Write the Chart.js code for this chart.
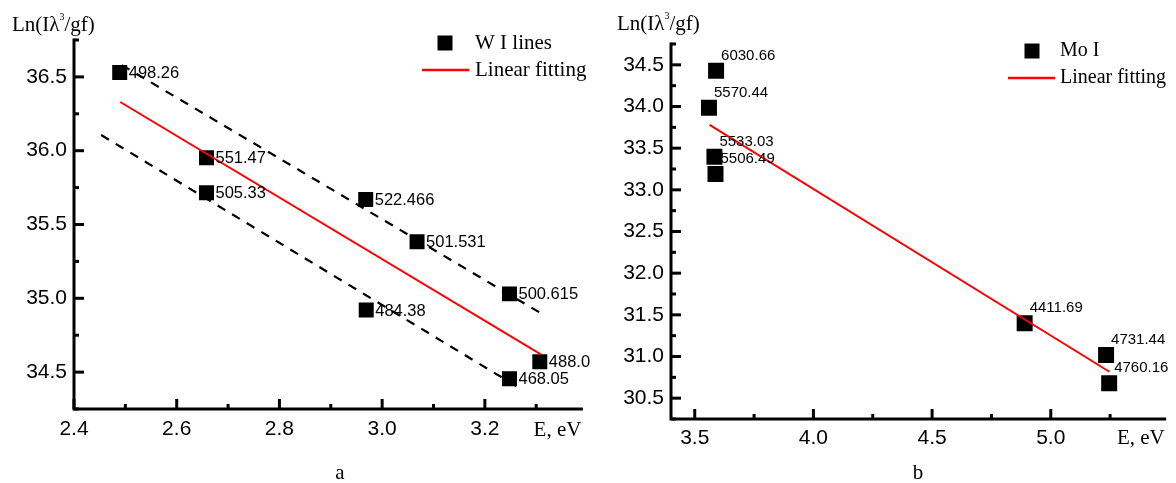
<!DOCTYPE html>
<html>
<head>
<meta charset="utf-8">
<script src="https://cdn.jsdelivr.net/npm/chart.js@4"></script>
<style>
  body { margin: 0; background: #fff; }
  canvas { position: absolute; top: 0; }
</style>
</head>
<body>
<canvas id="chartW" width="592" height="483" style="left:0"></canvas>
<canvas id="chartMo" width="584" height="483" style="left:592px"></canvas>
<script>
// panel a: W I lines
const wX = [2.489, 2.658, 2.658, 2.968, 3.068, 3.248, 2.969, 3.248, 3.307];
const wY = [36.53, 35.953, 35.715, 35.67, 35.383, 35.03, 34.92, 34.455, 34.57];
const wLabels = ["498.26", "551.47", "505.33", "522.466", "501.531", "500.615", "484.38", "468.05", "488.0"];
const wFitX = [2.49, 3.309];
const wFitY = [36.33, 34.62];
const wUpperX = [2.493, 3.31];
const wUpperY = [36.58, 34.897];
const wLowerX = [2.453, 3.263];
const wLowerY = [36.106, 34.401];

// panel b: Mo I
const moX = [3.59, 3.56, 3.583, 3.5875, 4.89, 5.233, 5.246];
const moY = [34.43, 33.986, 33.398, 33.19, 31.40, 31.018, 30.68];
const moLabels = ["6030.66", "5570.44", "5533.03", "5506.49", "4411.69", "4731.44", "4760.16"];
const moFitX = [3.5625, 5.247];
const moFitY = [33.78, 30.817];

const pts = (xs, ys) => xs.map((x, i) => ({ x, y: ys[i] }));
const SANS = "'Liberation Sans', Arial, sans-serif";
const SERIF = "'Liberation Serif', 'Times New Roman', serif";

// major tick values on step multiples inside [min, max]
function stepTicks(s, step) {
  const out = [];
  for (let k = Math.ceil(s.min / step - 1e-6); k <= Math.floor(s.max / step + 1e-6); k++) {
    out.push({ value: Math.round(k * step * 1000) / 1000 });
  }
  s.ticks = out;
}

// axes, inward ticks, point labels, legend and captions
const decor = {
  id: "decor",
  afterDraw(chart, args, o) {
    const { ctx, chartArea: a, scales: { x, y } } = chart;
    ctx.save();
    ctx.strokeStyle = "#000";
    ctx.fillStyle = "#000";
    ctx.lineWidth = 3;
    ctx.lineCap = "square";
    ctx.beginPath();
    ctx.moveTo(a.left, a.top);
    ctx.lineTo(a.left, a.bottom);
    ctx.lineTo(a.right, a.bottom);
    ctx.stroke();

    ctx.lineCap = "butt";
    const half = o.xStep / 2;
    for (let k = Math.ceil(x.min / half - 1e-6); k <= Math.floor(x.max / half + 1e-6); k++) {
      const px = x.getPixelForValue(k * half);
      const len = k % 2 === 0 ? 10 : 5;
      ctx.beginPath();
      ctx.moveTo(px, a.bottom);
      ctx.lineTo(px, a.bottom - len);
      ctx.stroke();
    }
    const yh = o.yStep / 2;
    for (let k = Math.ceil(y.min / yh - 1e-6); k <= Math.floor(y.max / yh + 1e-6); k++) {
      const py = y.getPixelForValue(k * yh);
      const len = k % 2 === 0 ? 10 : 5;
      ctx.beginPath();
      ctx.moveTo(a.left, py);
      ctx.lineTo(a.left + len, py);
      ctx.stroke();
    }

    // point labels
    const meta = chart.getDatasetMeta(o.pointSet);
    ctx.font = o.labelFont;
    ctx.textAlign = "left";
    ctx.textBaseline = "middle";
    meta.data.forEach((p, i) => {
      ctx.fillText(o.labels[i], p.x + o.dx, p.y + o.dy);
    });

    // y title with superscript
    ctx.font = "21px " + SERIF;
    let tx = o.title[0];
    const ty = o.title[1];
    ctx.fillText("Ln(I\u03bb", tx, ty);
    tx += ctx.measureText("Ln(I\u03bb").width;
    ctx.font = "10px " + SERIF;
    ctx.fillText("3", tx, ty - 8);
    tx += ctx.measureText("3").width;
    ctx.font = "21px " + SERIF;
    ctx.fillText("/gf)", tx, ty);

    // x title
    ctx.textAlign = "right";
    ctx.fillText("E, eV", a.right, o.xNameY);

    // panel letter
    ctx.textAlign = "center";
    ctx.fillText(o.letter[0], o.letter[1], o.letter[2]);

    // legend
    const lg = o.legend;
    ctx.font = lg.font;
    ctx.textAlign = "left";
    ctx.fillRect(lg.sq[0] - 7.5, lg.sq[1] - 7.5, 15, 15);
    ctx.fillText(lg.names[0], lg.tx, lg.sq[1]);
    ctx.strokeStyle = "#ff0000";
    ctx.lineWidth = 2.5;
    ctx.beginPath();
    ctx.moveTo(lg.line[0], lg.line[2]);
    ctx.lineTo(lg.line[1], lg.line[2]);
    ctx.stroke();
    ctx.fillText(lg.names[1], lg.tx, lg.line[2]);
    ctx.restore();
  }
};

function makeChart(id, sets, xr, yr, xStep, yStep, layout, xAxisH, yAxisW, xPad, decorOpts) {
  return new Chart(document.getElementById(id), {
    type: "scatter",
    data: { datasets: sets },
    options: {
      responsive: false,
      animation: false,
      layout: { padding: layout },
      plugins: { legend: { display: false }, tooltip: { enabled: false }, decor: decorOpts },
      scales: {
        x: {
          type: "linear", min: xr[0], max: xr[1],
          grid: { display: false, drawTicks: false },
          border: { display: false },
          afterBuildTicks: s => stepTicks(s, xStep),
          afterFit: s => { s.height = xAxisH; },
          ticks: {
            autoSkip: false, maxRotation: 0,
            padding: xPad, color: "#000", font: { family: SANS, size: 21 },
            callback: v => v.toFixed(1)
          }
        },
        y: {
          type: "linear", min: yr[0], max: yr[1],
          grid: { display: false, drawTicks: false },
          border: { display: false },
          afterBuildTicks: s => stepTicks(s, yStep),
          afterFit: s => { s.width = yAxisW; },
          ticks: {
            autoSkip: false,
            padding: 7, color: "#000", font: { family: SANS, size: 21 },
            callback: v => v.toFixed(1)
          }
        }
      }
    },
    plugins: [decor]
  });
}

makeChart("chartW", [
  { type: "line", data: pts(wFitX, wFitY), borderColor: "#ff0000", borderWidth: 2, pointRadius: 0 },
  { data: pts(wX, wY), pointStyle: "rect", pointRadius: 10.6, backgroundColor: "#000", borderWidth: 0 },
  { type: "line", data: pts(wUpperX, wUpperY), borderColor: "#000", borderWidth: 2.2, borderDash: [9, 8], pointRadius: 0 },
  { type: "line", data: pts(wLowerX, wLowerY), borderColor: "#000", borderWidth: 2.2, borderDash: [9, 8], pointRadius: 0 }
], [2.4, 3.388], [34.25, 36.75], 0.2, 0.5,
  { left: 0, right: 0, top: 40, bottom: 24 }, 50, 74, 8, {
    pointSet: 1, labels: wLabels, labelFont: "16.5px " + SANS, dx: 9, dy: 1,
    xStep: 0.2, yStep: 0.5, title: [12, 25], xNameY: 430, letter: ["a", 340, 473],
    legend: { font: "21px " + SERIF, names: ["W I lines", "Linear fitting"], sq: [445, 43], tx: 475, line: [422, 469, 70] }
  });

makeChart("chartMo", [
  { type: "line", data: pts(moFitX, moFitY), borderColor: "#ff0000", borderWidth: 2, pointRadius: 0 },
  { data: pts(moX, moY), pointStyle: "rect", pointRadius: 11.3, backgroundColor: "#000", borderWidth: 0 }
], [3.4, 5.48], [30.25, 34.75], 0.5, 0.5,
  { left: 0, right: 6, top: 44, bottom: 24 }, 40, 79, 7, {
    pointSet: 1, labels: moLabels, labelFont: "15px " + SANS, dx: 5, dy: -15,
    xStep: 0.5, yStep: 0.5, title: [25, 24], xNameY: 438, letter: ["b", 326, 473],
    legend: { font: "20px " + SERIF, names: ["Mo I", "Linear fitting"], sq: [440, 51], tx: 468, line: [416, 463, 78] }
  });
</script>
</body>
</html>
